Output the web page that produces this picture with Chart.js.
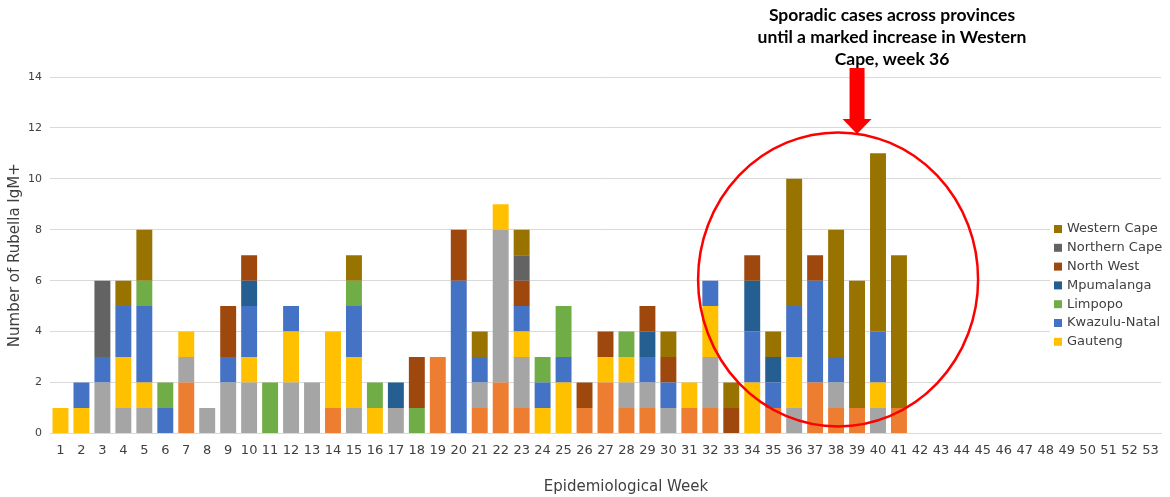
<!DOCTYPE html>
<html>
<head>
<meta charset="utf-8">
<script src="https://cdn.jsdelivr.net/npm/chart.js@4/dist/chart.umd.min.js"></script>
<style>
  html, body { margin: 0; padding: 0; background: #fff; }
  #wrap { width: 1170px; height: 497px; }
</style>
</head>
<body>
<div id="wrap"><canvas id="myCanvas" width="1170" height="497"></canvas></div>
<script>
// weeks 1..53
const weeks = []
for (let w = 1; w <= 53; w++) weeks.push(String(w))

// cases per province per week (weeks 1-41, rest empty)
const easternCape  = [0,0,0,0,0,0,2,0,0,0,0,0,0,1,0,0,0,0,3,0,1,2,1,0,0,1,2,1,1,0,1,1,0,0,1,0,2,1,1,0,1]
const freeState    = [0,0,2,1,1,0,1,1,2,2,0,2,2,0,1,0,1,0,0,0,1,6,2,0,0,0,0,1,1,1,0,2,0,0,0,1,0,1,0,1,0]
const gauteng      = [1,1,0,2,1,0,1,0,0,1,0,2,0,3,2,1,0,0,0,0,0,1,1,1,2,0,1,1,0,0,1,2,0,2,0,2,0,0,0,1,0]
const kwazulu      = [0,1,1,2,3,1,0,0,1,2,0,1,0,0,2,0,0,0,0,6,1,0,1,1,1,0,0,0,1,1,0,1,0,2,1,2,4,1,0,2,0]
const limpopo      = [0,0,0,0,1,1,0,0,0,0,2,0,0,0,1,1,0,1,0,0,0,0,0,1,2,0,0,1,0,0,0,0,0,0,0,0,0,0,0,0,0]
const mpumalanga   = [0,0,0,0,0,0,0,0,0,1,0,0,0,0,0,0,1,0,0,0,0,0,0,0,0,0,0,0,1,0,0,0,0,2,1,0,0,0,0,0,0]
const northWest    = [0,0,0,0,0,0,0,0,2,1,0,0,0,0,0,0,0,2,0,2,0,0,1,0,0,1,1,0,1,1,0,0,1,1,0,0,1,0,0,0,0]
const northernCape = [0,0,3,0,0,0,0,0,0,0,0,0,0,0,0,0,0,0,0,0,0,0,1,0,0,0,0,0,0,0,0,0,0,0,0,0,0,0,0,0,0]
const westernCape  = [0,0,0,1,2,0,0,0,0,0,0,0,0,0,1,0,0,0,0,0,1,0,1,0,0,0,0,0,0,1,0,0,1,0,1,5,0,5,5,7,6]

const yTicks = [0, 2, 4, 6, 8, 10, 12, 14]

const series = [
  { label: 'Eastern Cape',  data: easternCape,  color: '#ED7D31', legend: false },
  { label: 'Free State',    data: freeState,    color: '#A5A5A5', legend: false },
  { label: 'Gauteng',       data: gauteng,      color: '#FFC000', legend: true },
  { label: 'Kwazulu-Natal', data: kwazulu,      color: '#4472C4', legend: true },
  { label: 'Limpopo',       data: limpopo,      color: '#70AD47', legend: true },
  { label: 'Mpumalanga',    data: mpumalanga,   color: '#255E91', legend: true },
  { label: 'North West',    data: northWest,    color: '#9E480E', legend: true },
  { label: 'Northern Cape', data: northernCape, color: '#636363', legend: true },
  { label: 'Western Cape',  data: westernCape,  color: '#997300', legend: true }
]

// legend box inside the plot, x title, plus the red circle / arrow / note
const extras = {
  id: 'extras',
  afterDraw(chart) {
    const ctx = chart.ctx
    const x = chart.scales.x, y = chart.scales.y
    ctx.save()

    // legend
    const items = chart.data.datasets.filter(d => d.showInLegend).reverse()
    const lx = 1050, ly = 219, rowH = 18.8
    ctx.fillStyle = '#fff'
    ctx.fillRect(lx, ly, 116, items.length * rowH + 4)
    ctx.font = '13px "DejaVu Sans"'
    ctx.textBaseline = 'middle'
    items.forEach((d, i) => {
      const cy = ly + 10 + i * rowH
      ctx.fillStyle = d.backgroundColor
      ctx.fillRect(lx + 4, cy - 4, 8, 8)
      ctx.fillStyle = '#404040'
      ctx.fillText(d.label, lx + 17, cy)
    })

    // x axis title (sits a bit right of plot centre in the original)
    ctx.textAlign = 'center'
    ctx.font = '15px "DejaVu Sans"'
    ctx.fillStyle = '#404040'
    ctx.fillText('Epidemiological Week', 626, 487)

    // red ellipse
    const cx = x.getPixelForValue(37), cyE = y.getPixelForValue(6.05)
    ctx.strokeStyle = '#FF0000'
    ctx.lineWidth = 2.5
    ctx.beginPath()
    ctx.ellipse(cx + 2, cyE, 140, 147, 0, 0, Math.PI * 2)
    ctx.stroke()

    // arrow
    const ax = x.getPixelForValue(38)
    ctx.fillStyle = '#FF0000'
    ctx.fillRect(ax - 7.5, 68, 15, 52)
    ctx.beginPath()
    ctx.moveTo(ax - 14.5, 119)
    ctx.lineTo(ax + 14.5, 119)
    ctx.lineTo(ax, 134)
    ctx.closePath()
    ctx.fill()

    // note
    ctx.fillStyle = '#000'
    ctx.font = 'bold 17.5px Lato'
    const tx = 892
    ctx.fillText('Sporadic cases across provinces', tx, 15)
    ctx.fillText('until a marked increase in Western', tx, 37)
    ctx.fillText('Cape, week 36', tx, 59)
    ctx.restore()
  }
}

let grafic = document.querySelector('#myCanvas').getContext('2d')
let myChart = new Chart(grafic, {
  type: 'bar',
  data: {
    labels: weeks,
    datasets: series.map(s => ({
      label: s.label,
      data: s.data,
      backgroundColor: s.color,
      borderWidth: 0,
      showInLegend: s.legend,
      barPercentage: 0.76,
      categoryPercentage: 1
    }))
  },
  options: {
    responsive: false,
    animation: false,
    layout: { padding: { top: 77, right: 9, left: 6, bottom: 38 } },
    scales: {
      x: {
        stacked: true,
        grid: { display: false },
        border: { color: '#d9d9d9' },
        ticks: { color: '#404040', font: { family: 'DejaVu Sans', size: 13 }, maxRotation: 0, autoSkip: false, padding: 1 }
      },
      y: {
        stacked: true,
        min: 0,
        max: 14,
        afterBuildTicks: s => { s.ticks = yTicks.map(v => ({ value: v })) },
        grid: { color: '#d9d9d9', drawTicks: false },
        border: { display: false },
        ticks: { color: '#404040', font: { family: 'DejaVu Sans', size: 11 }, padding: 8 },
        title: { display: true, text: 'Number of Rubella IgM+', color: '#404040', font: { family: 'DejaVu Sans', size: 15 }, padding: 0 },
        afterFit: s => { s.width = 44 }
      }
    },
    plugins: {
      legend: { display: false },
      tooltip: { enabled: false }
    }
  },
  plugins: [extras]
})
</script>
</body>
</html>
